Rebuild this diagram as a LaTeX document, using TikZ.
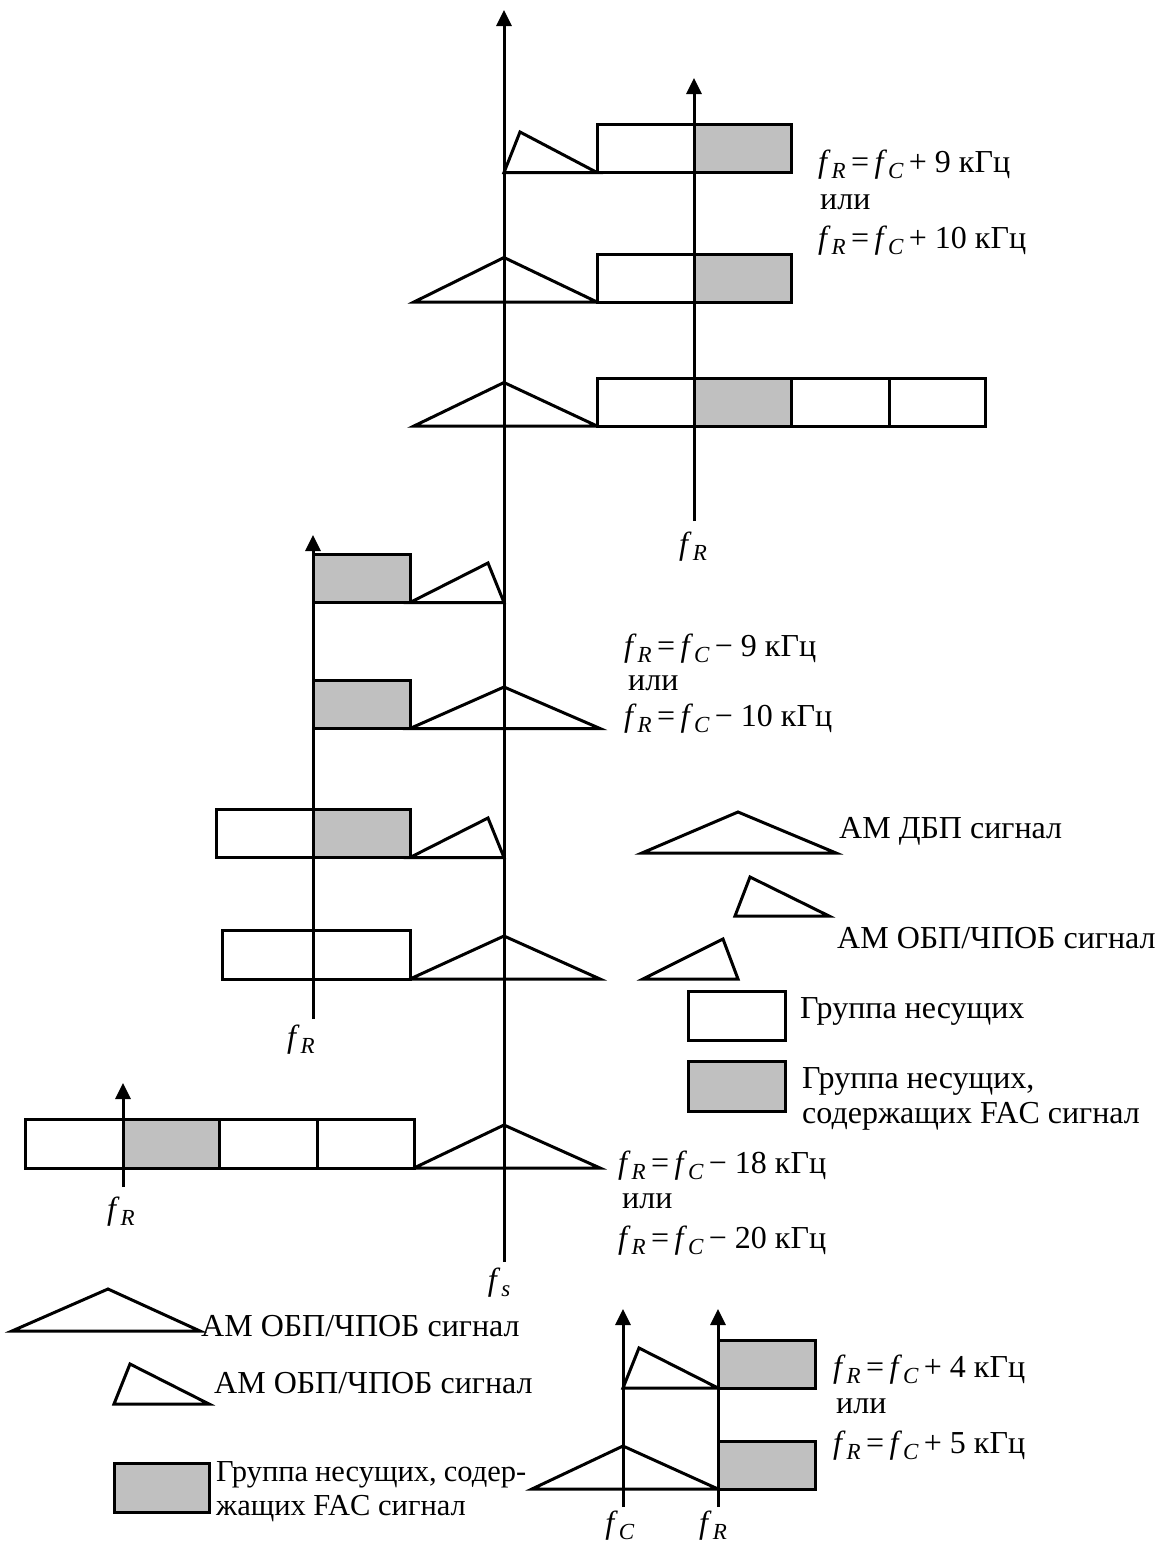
\documentclass[tikz,border=0pt]{standalone}
\usepackage{fontspec}
\setmainfont{Liberation Serif}
\usetikzlibrary{arrows.meta}
\definecolor{fillgray}{HTML}{C0C0C0}
\newcommand\fx[1]{\textit{f}\kern0.03em\raisebox{-0.2em}{\fontsize{23}{23}\selectfont\textit{#1}}}
\begin{document}
\begin{tikzpicture}[x=1pt,y=-1pt,
  sig/.style={line width=3pt, line join=miter, fill=white},
  gbox/.style={sig, fill=fillgray},
  axis/.style={line width=3pt, -{Triangle[width=15pt,length=16pt]}},
  txt/.style={inner sep=0pt, anchor=base west, font=\fontsize{32}{36}\selectfont},
  smalltxt/.style={inner sep=0pt, anchor=base west, font=\fontsize{30.5}{35}\selectfont},
  lbl/.style={inner sep=0pt, anchor=base, font=\fontsize{32}{36}\selectfont}]
\useasboundingbox (0,0) rectangle (1161,1548);

% ---------- top group (fR = fC + 9/10 kHz)
\draw[sig] (504,172.5) -- (520,132) -- (597,172.5) -- cycle;
\draw[sig] (597,124.5) rectangle (694,172.5);
\draw[gbox] (694,124.5) rectangle (791,172.5);
\draw[sig] (414,302) -- (504,257.5) -- (597,302) -- cycle;
\draw[sig] (597,254) rectangle (694,302);
\draw[gbox] (694,254) rectangle (791,302);
\draw[sig] (414,426) -- (504,382.5) -- (597,426) -- cycle;
\draw[sig] (597,378.5) rectangle (694,426);
\draw[gbox] (694,378.5) rectangle (791,426);
\draw[sig] (791,378.5) rectangle (889,426);
\draw[sig] (889,378.5) rectangle (985,426);
\coordinate (tRb) at (694,521);
\coordinate (tRt) at (694,78);
\draw[axis] (tRb) -- (tRt);
\node[lbl] (tRl) at (693,554) {\fx{R}};
\node[txt] (t1) at (818,172.5) {\fx{R}\,=\,\fx{C}\,+\ 9 кГц};
\node[txt] (t2) at (820,209) {или};
\node[txt] (t3) at (818,248) {\fx{R}\,=\,\fx{C}\,+\ 10 кГц};

% ---------- middle group (fR = fC - 9/10 kHz)
\draw[gbox] (313,554) rectangle (410,602.5);
\draw[sig] (410,602.5) -- (488,563) -- (504,602.5) -- cycle;
\draw[gbox] (313,680) rectangle (410,728.5);
\draw[sig] (410,728.5) -- (504,687) -- (600,728.5) -- cycle;
\draw[sig] (216,809) rectangle (313,857.5);
\draw[gbox] (313,809) rectangle (410,857.5);
\draw[sig] (410,857.5) -- (488,818) -- (504,857.5) -- cycle;
\draw[sig] (222,930) rectangle (410,979);
\draw[sig] (410,979) -- (504,936) -- (600,979) -- cycle;
\coordinate (mRb) at (313,1019);
\coordinate (mRt) at (313,535);
\draw[axis] (mRb) -- (mRt);
\node[lbl] (mRl) at (301,1047) {\fx{R}};
\node[txt] (m1) at (624,656) {\fx{R}\,=\,\fx{C}\,−\ 9 кГц};
\node[txt] (m2) at (628,690) {или};
\node[txt] (m3) at (624,726) {\fx{R}\,=\,\fx{C}\,−\ 10 кГц};

% ---------- legend right
\draw[sig] (642,853) -- (738,812) -- (836,853) -- cycle;
\node[txt] (l1) at (839,838) {АМ ДБП сигнал};
\draw[sig] (735,916) -- (750,877) -- (829,916) -- cycle;
\node[txt] (l2) at (837,948) {АМ ОБП/ЧПОБ сигнал};
\draw[sig] (643,979) -- (723,939) -- (738,979) -- cycle;
\draw[sig] (688,991) rectangle (785,1040);
\node[txt] (l3) at (800,1018) {Группа несущих};
\draw[gbox] (688,1061) rectangle (785,1111);
\node[txt] (l4) at (802,1088) {Группа несущих,};
\node[txt] (l5) at (802,1123) {содержащих FAC сигнал};

% ---------- bottom-left group (fR = fC - 18/20 kHz)
\draw[sig] (25,1119) rectangle (123,1168);
\draw[gbox] (123,1119) rectangle (219,1168);
\draw[sig] (219,1119) rectangle (317,1168);
\draw[sig] (317,1119) rectangle (414,1168);
\draw[sig] (414,1168) -- (504,1125) -- (600,1168) -- cycle;
\coordinate (bRb) at (123,1187);
\coordinate (bRt) at (123,1083);
\draw[axis] (bRb) -- (bRt);
\node[lbl] (bRl) at (121,1219) {\fx{R}};
\node[txt] (b1) at (618,1173) {\fx{R}\,=\,\fx{C}\,−\ 18 кГц};
\node[txt] (b2) at (622,1208) {или};
\node[txt] (b3) at (618,1248) {\fx{R}\,=\,\fx{C}\,−\ 20 кГц};

% ---------- main axis fs
\coordinate (sb) at (504,1262);
\coordinate (st) at (504,10);
\draw[axis] (sb) -- (st);
\node[lbl] (sl) at (499,1290) {\fx{s}};

% ---------- bottom legend
\draw[sig] (12,1331) -- (108,1289) -- (200,1331) -- cycle;
\node[txt] (g1) at (201,1336) {АМ ОБП/ЧПОБ сигнал};
\draw[sig] (114,1404) -- (130,1364) -- (209,1404) -- cycle;
\node[txt] (g2) at (214,1393) {АМ ОБП/ЧПОБ сигнал};
\draw[gbox] (114,1463) rectangle (209,1512);
\node[smalltxt] (g3) at (216,1481) {\makebox[310pt][s]{Группа несущих, содер-}};
\node[smalltxt] (g4) at (216,1515) {жащих FAC сигнал};

% ---------- bottom-right group (fR = fC + 4/5 kHz)
\draw[gbox] (718,1340) rectangle (815,1388);
\draw[sig] (623,1388) -- (639,1348) -- (718,1388) -- cycle;
\draw[gbox] (718,1441) rectangle (815,1489);
\draw[sig] (532,1489) -- (623,1446) -- (718,1489) -- cycle;
\coordinate (cCb) at (623,1507);
\coordinate (cCt) at (623,1309);
\coordinate (cRb) at (718,1507);
\coordinate (cRt) at (718,1309);
\draw[axis] (cCb) -- (cCt);
\draw[axis] (cRb) -- (cRt);
\node[lbl] (cCl) at (620,1533) {\fx{C}};
\node[lbl] (cRl) at (713,1533) {\fx{R}};
\node[txt] (c1) at (833,1377) {\fx{R}\,=\,\fx{C}\,+\ 4 кГц};
\node[txt] (c2) at (836,1413) {или};
\node[txt] (c3) at (833,1453) {\fx{R}\,=\,\fx{C}\,+\ 5 кГц};
\end{tikzpicture}
\end{document}
